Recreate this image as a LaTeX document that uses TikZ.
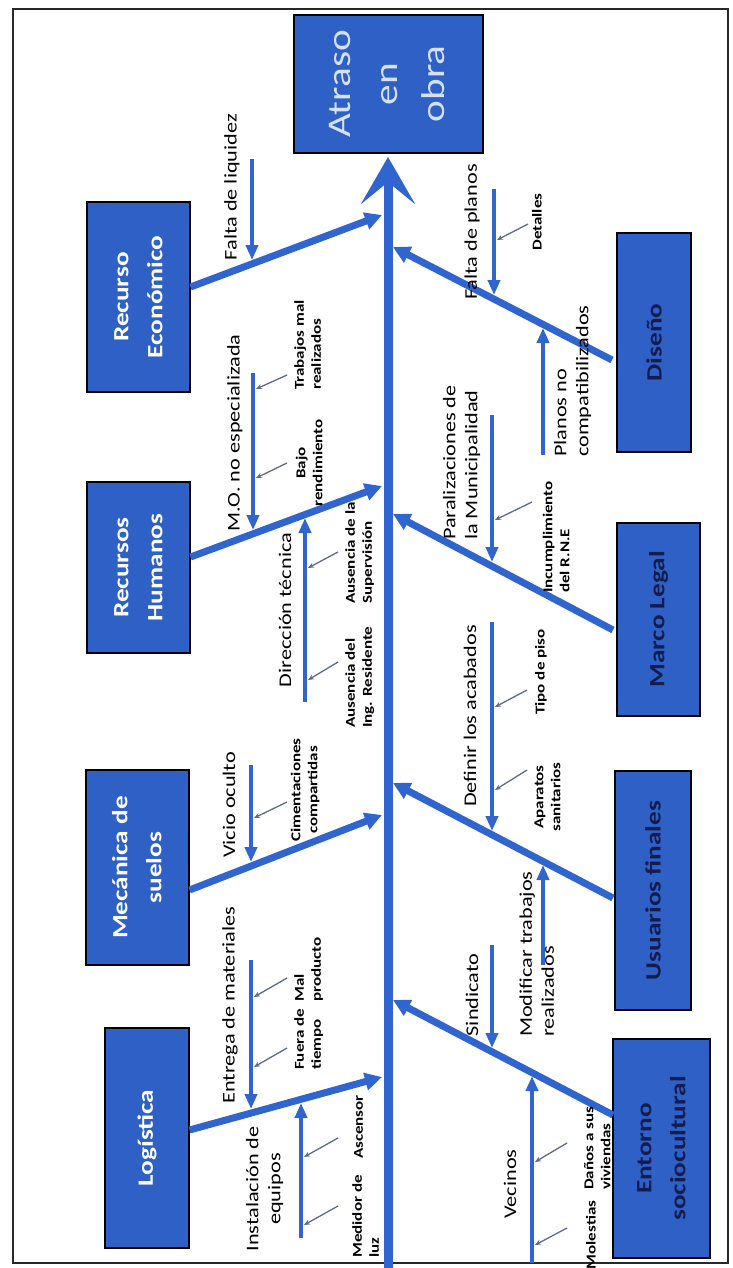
\documentclass[tikz,border=0pt]{standalone}
\usepackage{fontspec}
\setmainfont{Carlito}
\usepackage{graphicx}
\usetikzlibrary{arrows.meta}
\definecolor{boxblue}{RGB}{46,96,198}
\definecolor{lineblue}{RGB}{48,100,206}
\definecolor{navytxt}{RGB}{18,28,78}
\definecolor{headtxt}{RGB}{214,224,246}
\definecolor{pointer}{RGB}{96,106,140}
\definecolor{framecol}{RGB}{40,40,40}
\newcommand\rt[1]{\scalebox{1.25}[1]{#1}}
\newcommand\twol[3]{\rt{\begin{tabular}{@{}#1@{}}#2\\#3\end{tabular}}}
\begin{document}
\begin{tikzpicture}[x=1pt,y=-1pt,
 catbox/.style={draw=black,line width=1.1pt,fill=boxblue,inner sep=0pt},
 cattxt/.style={rotate=90,inner sep=0pt,font=\fontsize{21.8}{34}\selectfont\bfseries},
 headlbl/.style={rotate=90,inner sep=0pt,text=headtxt,font=\fontsize{33}{47}\selectfont},
 midlbl/.style={rotate=90,inner sep=0pt,font=\fontsize{17.8}{22}\selectfont},
 smllbl/.style={rotate=90,inner sep=0pt,font=\fontsize{13.6}{17}\selectfont\bfseries},
 bone/.style={draw=lineblue,line width=7pt,-{Triangle[length=17pt,width=17pt]}},
 twig/.style={draw=lineblue,line width=4pt,-{Triangle[length=15pt,width=12pt]}},
 pointerarr/.style={draw=pointer,line width=1.3pt,-{Stealth[length=6pt,width=5pt]}},
 spinestyle/.style={draw=lineblue,line width=9pt,-{Stealth[length=47pt,width=54pt,inset=22pt]}},
]
\path[use as bounding box,fill=white] (0,0) rectangle (732,1268);
\draw[framecol,line width=2pt] (13,9) rectangle (728,1263);

% boxes
\node[catbox,minimum width=189pt,minimum height=138pt] (head) at (388.5,84) {};
\node[catbox,minimum width=103pt,minimum height=190pt] (re) at (138.5,297) {};
\node[catbox,minimum width=103pt,minimum height=171pt] (rh) at (138.5,567.5) {};
\node[catbox,minimum width=103pt,minimum height=195pt] (ms) at (137.5,867.5) {};
\node[catbox,minimum width=84pt,minimum height=220pt] (lg) at (147,1138) {};
\node[catbox,minimum width=74pt,minimum height=219pt] (ds) at (654,342.5) {};
\node[catbox,minimum width=83pt,minimum height=193pt] (ml) at (658.5,619.5) {};
\node[catbox,minimum width=76pt,minimum height=239pt] (uf) at (653,890.5) {};
\node[catbox,minimum width=97pt,minimum height=219pt] (es) at (661.5,1148.5) {};

\node[headlbl] (headt) at (head.center) {\rt{\begin{tabular}{@{}c@{}}Atraso\\en\\obra\end{tabular}}};
\node[cattxt,text=white] (ret) at (re.center) {\twol{c}{Recurso}{Económico}};
\node[cattxt,text=white] (rht) at (rh.center) {\twol{c}{Recursos}{Humanos}};
\node[cattxt,text=white] (mst) at (ms.center) {\twol{c}{Mecánica de}{suelos}};
\node[cattxt,text=white] (lgt) at (lg.center) {\rt{Logística}};
\node[cattxt,text=navytxt] (dst) at (ds.center) {\rt{Diseño}};
\node[cattxt,text=navytxt] (mlt) at (ml.center) {\rt{Marco Legal}};
\node[cattxt,text=navytxt] (uft) at (uf.center) {\rt{Usuarios finales}};
\node[cattxt,text=navytxt] (est) at (es.center) {\twol{c}{Entorno}{sociocultural}};

% spine
\coordinate (spb) at (388,1268);
\coordinate (spt) at (388,157);
\draw[spinestyle] (spb) -- (spt);

% bones
\coordinate (reA) at (re.east |- 0,287);   \coordinate (reB) at (382,215);
\coordinate (rhA) at (rh.east |- 0,557);   \coordinate (rhB) at (382,486);
\coordinate (msA) at (ms.east |- 0,890);   \coordinate (msB) at (382,815);
\coordinate (lgA) at (lg.east |- 0,1130);  \coordinate (lgB) at (382,1077);
\coordinate (dsA) at (612,360);  \coordinate (dsB) at (393,247);
\coordinate (mlA) at (613,630);  \coordinate (mlB) at (393,514);
\coordinate (ufA) at (613,898);  \coordinate (ufB) at (393,783);
\coordinate (esA) at (613,1115); \coordinate (esB) at (393,1000);
\foreach \b in {re,rh,ms,lg,ds,ml,uf,es}{\draw[bone] (\b A) -- (\b B);}

% twigs
\foreach \n/\x/\ya/\yb in {t1/252/159/260, t2/253/373/530, t3/251/765/862, t4/251/960/1109,
  t5/494/189/295, t6/492/415/562, t7/492/622/831, t8/492/945/1048,
  t9/305/702/518, t10/301/1238/1103, t11/543/455/328, t12/543/965/865, t13/532/1263/1076}{
  \coordinate (\n a) at (\x,\ya); \coordinate (\n b) at (\x,\yb);
  \draw[twig] (\n a) -- (\n b);}

% pointers
\foreach \n/\xa/\ya/\xb/\yb in {p1/287/375/256/389, p2/287/463/256/478, p3/338/552/308/568,
  p4/338/662/308/680, p5/287/802/254/818, p6/287/978/254/997, p7/287/1048/254/1067,
  p8/338/1138/304/1157, p9/338/1206/304/1225, p10/528/224/497/240, p11/532/502/495/520,
  p12/527/690/495/707, p13/527/770/495/790, p14/567/1143/535/1162, p15/567/1228/535/1245}{
  \coordinate (\n a) at (\xa,\ya); \coordinate (\n b) at (\xb,\yb);
  \draw[pointerarr] (\n a) -- (\n b);}

% medium labels
\node[midlbl] (l1) at (232,187) {\rt{Falta de liquidez}};
\node[midlbl] (l2) at (235,433) {\rt{M.O. no especializada}};
\node[midlbl] (l3) at (285,610) {\rt{Dirección técnica}};
\node[midlbl] (l4) at (229,805) {\rt{Vicio oculto}};
\node[midlbl] (l5) at (230,1005) {\rt{Entrega de materiales}};
\node[midlbl] (l6) at (265,1189) {\twol{c}{Instalación de}{equipos}};
\node[midlbl] (l7) at (472,232) {\rt{Falta de planos}};
\node[midlbl,anchor=west] (l8) at (573,457) {\twol{l}{Planos no}{compatibilizados}};
\node[midlbl,anchor=west] (l9) at (462,540) {\twol{l}{Paralizaciones de}{la Municipalidad}};
\node[midlbl] (l10) at (470,716) {\rt{Definir los acabados}};
\node[midlbl,anchor=west] (l11) at (538.5,1037) {\twol{l}{Modificar trabajos}{realizados}};
\node[midlbl] (l12) at (472,995) {\rt{Sindicato}};
\node[midlbl] (l13) at (510,1184) {\rt{Vecinos}};

% small labels
\node[smllbl,anchor=west] (s1) at (309,390) {\twol{l}{Trabajos mal}{realizados}};
\node[smllbl] (s2) at (310.5,463) {\twol{c}{Bajo}{rendimiento}};
\node[smllbl,anchor=west] (s3) at (360,604) {\twol{l}{Ausencia de la}{Supervisión}};
\node[smllbl,anchor=west] (s4) at (360,728) {\twol{l}{Ausencia del}{Ing. Residente}};
\node[smllbl] (s5) at (305.5,790) {\twol{c}{Cimentaciones}{compartidas}};
\node[smllbl,anchor=west] (s6) at (309,1002) {\twol{l}{Mal}{producto}};
\node[smllbl,anchor=west] (s7) at (309,1070) {\twol{l}{Fuera de}{tiempo}};
\node[smllbl] (s8) at (358.5,1127) {\rt{Ascensor}};
\node[smllbl,anchor=west] (s9) at (367,1258) {\twol{l}{Medidor de}{luz}};
\node[smllbl] (s10) at (537,222) {\rt{Detalles}};
\node[smllbl,anchor=west] (s11) at (557.5,593) {\twol{l}{Incumplimiento}{del R.N.E}};
\node[smllbl] (s12) at (541,672) {\rt{Tipo de piso}};
\node[smllbl] (s13) at (548.5,797) {\twol{c}{Aparatos}{sanitarios}};
\node[smllbl,anchor=west] (s14) at (598.5,1190) {\twol{l}{Daños a sus}{viviendas}};
\node[smllbl] (s15) at (591,1235) {\rt{Molestias}};
\end{tikzpicture}
\end{document}
